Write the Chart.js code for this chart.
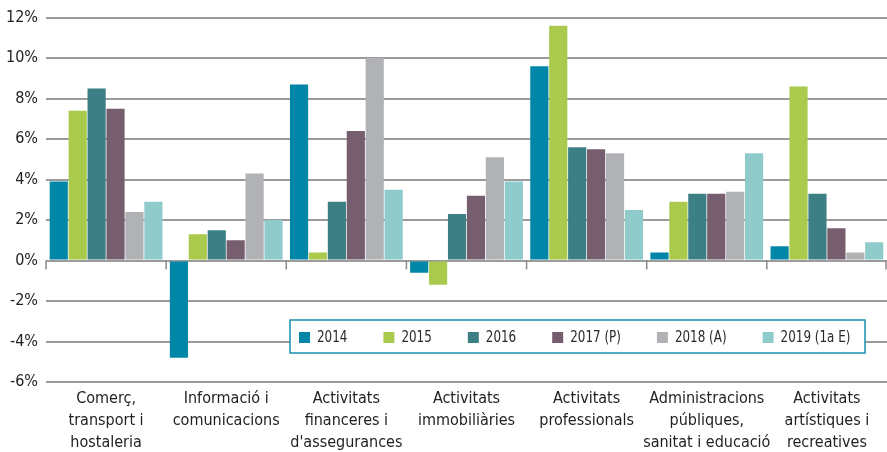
<!DOCTYPE html>
<html>
<head>
<meta charset="utf-8">
<script src="https://cdn.jsdelivr.net/npm/chart.js@4/dist/chart.umd.min.js"></script>
<style>
html,body{margin:0;padding:0;background:#fff;}
#wrap{width:887px;height:452px;position:relative;}
</style>
</head>
<body>
<div id="wrap"><canvas id="c" width="887" height="452"></canvas></div>
<script>
const categories = [
  ["Comerç,", "transport i", "hostaleria"],
  ["Informació i", "comunicacions"],
  ["Activitats", "financeres i", "d'assegurances"],
  ["Activitats", "immobiliàries"],
  ["Activitats", "professionals"],
  ["Administracions", "públiques,", "sanitat i educació"],
  ["Activitats", "artístiques i", "recreatives"]
];
const seriesNames = ["2014", "2015", "2016", "2017 (P)", "2018 (A)", "2019 (1a E)"];
const v2014 = [3.9, -4.8, 8.7, -0.6, 9.6, 0.4, 0.7];
const v2015 = [7.4, 1.3, 0.4, -1.2, 11.6, 2.9, 8.6];
const v2016 = [8.5, 1.5, 2.9, 2.3, 5.6, 3.3, 3.3];
const v2017 = [7.5, 1.0, 6.4, 3.2, 5.5, 3.3, 1.6];
const v2018 = [2.4, 4.3, 10.0, 5.1, 5.3, 3.4, 0.4];
const v2019 = [2.9, 2.0, 3.5, 3.9, 2.5, 5.3, 0.9];
const yTicks = [-6, -4, -2, 0, 2, 4, 6, 8, 10, 12];

const colors = ["#0087a7", "#a9ca4d", "#3c7f84", "#765e6f", "#b1b2b5", "#8ecbca"];
const allValues = [v2014, v2015, v2016, v2017, v2018, v2019];
const FONT = "'Liberation Sans Narrow', 'DejaVu Sans Condensed', sans-serif";

const zeroTicks = {
  id: 'zeroTicks',
  afterDatasetsDraw(chart) {
    const ctx = chart.ctx, y = chart.scales.y;
    const y0 = y.getPixelForValue(0);
    const n = categories.length;
    const w = (chart.chartArea.right - chart.chartArea.left) / n;
    ctx.save();
    ctx.strokeStyle = '#8a8a8a';
    ctx.lineWidth = 1.5;
    for (let i = 0; i <= n; i++) {
      const px = Math.min(chart.chartArea.left + i * w, chart.chartArea.right - 1);
      ctx.beginPath();
      ctx.moveTo(px, y0);
      ctx.lineTo(px, y0 + 9);
      ctx.stroke();
    }
    ctx.restore();
  }
};

const boxLegend = {
  id: 'boxLegend',
  afterDraw(chart) {
    const ctx = chart.ctx;
    ctx.save();
    const bx = 290, by = 320, bw = 575, bh = 33;
    ctx.fillStyle = '#fff';
    ctx.fillRect(bx, by, bw, bh);
    ctx.strokeStyle = '#1a8fae';
    ctx.lineWidth = 1.5;
    ctx.strokeRect(bx, by, bw, bh);
    ctx.font = "16px " + FONT;
    ctx.textBaseline = 'middle';
    const sx = 0.83;
    let x = 299;
    const cy = by + bh / 2 + 1;
    chart.data.datasets.forEach((ds) => {
      ctx.fillStyle = ds.backgroundColor;
      ctx.fillRect(x, cy - 5.5, 11, 11);
      ctx.fillStyle = '#2a2a2a';
      ctx.save();
      ctx.translate(x + 18, cy);
      ctx.scale(sx, 1);
      ctx.fillText(ds.label, 0, 0);
      ctx.restore();
      x += 18 + ctx.measureText(ds.label).width * sx + 36;
    });
    ctx.restore();
  }
};

new Chart(document.getElementById('c'), {
  type: 'bar',
  data: {
    labels: categories,
    datasets: seriesNames.map((name, i) => ({
      label: name,
      data: allValues[i],
      backgroundColor: colors[i],
      borderWidth: 0,
      categoryPercentage: 0.945,
      barPercentage: 0.96
    }))
  },
  options: {
    responsive: false,
    animation: false,
    devicePixelRatio: 1,
    layout: { padding: { top: 15, right: 0, left: 0, bottom: 0 } },
    plugins: { legend: { display: false }, tooltip: { enabled: false }, title: { display: false } },
    scales: {
      x: {
        grid: { display: false, drawTicks: false },
        border: { display: false },
        ticks: {
          color: '#222',
          font: { family: FONT, size: 16, lineHeight: 1.38 },
          padding: 6,
          maxRotation: 0,
          autoSkip: false
        },
        afterFit(scale) { scale.height = 70; }
      },
      y: {
        min: -6, max: 12,
        afterBuildTicks(scale) { scale.ticks = yTicks.map(v => ({ value: v })); },
        grid: { color: '#9b9b9b', lineWidth: 2, drawTicks: false },
        border: { display: false },
        ticks: {
          color: '#222',
          font: { family: FONT, size: 16 },
          padding: 8,
          callback: (v) => v + '%'
        },
        afterFit(scale) { scale.width = 46; }
      }
    }
  },
  plugins: [zeroTicks, boxLegend]
});
</script>
</body>
</html>
